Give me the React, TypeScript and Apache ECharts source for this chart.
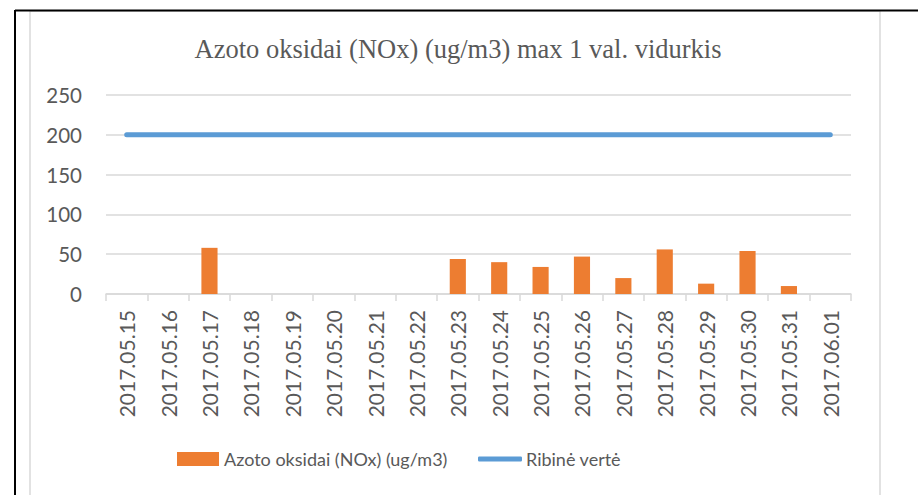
import React, { useEffect, useRef } from "react";
import * as echarts from "echarts";

const categories = [
  "2017.05.15", "2017.05.16", "2017.05.17", "2017.05.18", "2017.05.19", "2017.05.20",
  "2017.05.21", "2017.05.22", "2017.05.23", "2017.05.24", "2017.05.25", "2017.05.26",
  "2017.05.27", "2017.05.28", "2017.05.29", "2017.05.30", "2017.05.31", "2017.06.01",
];
const noxValues: (number | null)[] = [
  null, null, 58, null, null, null, null, null, 44, 40, 34, 47, 20, 56, 13, 54, 10, null,
];
const limitValues = [200, 200, 200, 200, 200, 200, 200, 200, 200, 200, 200, 200, 200, 200, 200, 200, 200, 200];
const yTicks = { min: 0, max: 250, interval: 50 };
const titleText = "Azoto oksidai (NOx) (ug/m3) max 1 val. vidurkis";
const barName = "Azoto oksidai (NOx) (ug/m3)";
const lineName = "Ribinė vertė";

const LABEL_FONT = "Lato, 'Open Sans', sans-serif";
const GRAY = "#595959";
const GRID = "#D9D9D9";

export default function App() {
  const ref = useRef<HTMLDivElement>(null);
  useEffect(() => {
    if (!ref.current) return;
    const chart = echarts.init(ref.current, null, { renderer: "svg" });
    const legendText = { fontFamily: LABEL_FONT, fontSize: 18, color: GRAY, lineHeight: 24 };
    chart.setOption({
      animation: false,
      backgroundColor: "#ffffff",
      title: {
        text: titleText,
        left: 453,
        textAlign: "center",
        top: 30,
        textStyle: {
          fontFamily: "'Liberation Serif', 'Times New Roman', serif",
          fontSize: 26.5,
          fontWeight: "normal",
          color: GRAY,
        },
      },
      grid: { left: 106, right: 67, top: 95, bottom: 201, containLabel: false },
      legend: [
        {
          left: 177,
          top: 447,
          padding: 0,
          itemGap: 0,
          itemWidth: 42,
          itemHeight: 14,
          textStyle: { ...legendText, padding: [0, 0, 0, 0] },
          data: [{ name: barName, icon: "rect" }],
        },
        {
          left: 478,
          top: 447,
          padding: 0,
          itemGap: 0,
          itemWidth: 44,
          itemHeight: 5,
          textStyle: { ...legendText, padding: [0, 0, 0, -1] },
          data: [{ name: lineName, icon: "roundRect" }],
        },
      ],
      xAxis: {
        type: "category",
        data: categories,
        boundaryGap: true,
        axisLine: { lineStyle: { color: GRID, width: 1.5 } },
        axisTick: { show: true, length: 7, alignWithLabel: false, lineStyle: { color: GRID, width: 1.5 } },
        axisLabel: {
          rotate: 90,
          interval: 0,
          margin: 16,
          fontFamily: LABEL_FONT,
          fontSize: 21,
          color: GRAY,
        },
      },
      yAxis: {
        type: "value",
        min: yTicks.min,
        max: yTicks.max,
        interval: yTicks.interval,
        axisLine: { show: false },
        axisTick: { show: false },
        splitLine: { lineStyle: { color: GRID, width: 1.5 } },
        axisLabel: { margin: 24, fontFamily: LABEL_FONT, fontSize: 20.5, color: GRAY },
      },
      series: [
        {
          name: barName,
          type: "bar",
          data: noxValues,
          barWidth: "39%",
          itemStyle: { color: "#ED7D31" },
        },
        {
          name: lineName,
          type: "line",
          data: limitValues,
          symbol: "none",
          lineStyle: { color: "#5B9BD5", width: 5, cap: "round" },
          itemStyle: { color: "#5B9BD5" },
        },
      ],
      graphic: [
        {
          type: "rect",
          shape: { x: 30, y: 11, width: 850, height: 520 },
          style: { fill: "none", stroke: GRID, lineWidth: 1.5 },
          silent: true,
        },
        {
          type: "line",
          shape: { x1: 15, y1: 10.5, x2: 918, y2: 10.5 },
          style: { stroke: "#000000", lineWidth: 2 },
          silent: true,
        },
        {
          type: "line",
          shape: { x1: 15, y1: 10, x2: 15, y2: 495 },
          style: { stroke: "#000000", lineWidth: 2 },
          silent: true,
        },
      ],
    });
    return () => chart.dispose();
  }, []);
  return (
    <div
      ref={ref}
      style={{ position: "fixed", left: 0, top: 0, width: 918, height: 495 }}
    />
  );
}
